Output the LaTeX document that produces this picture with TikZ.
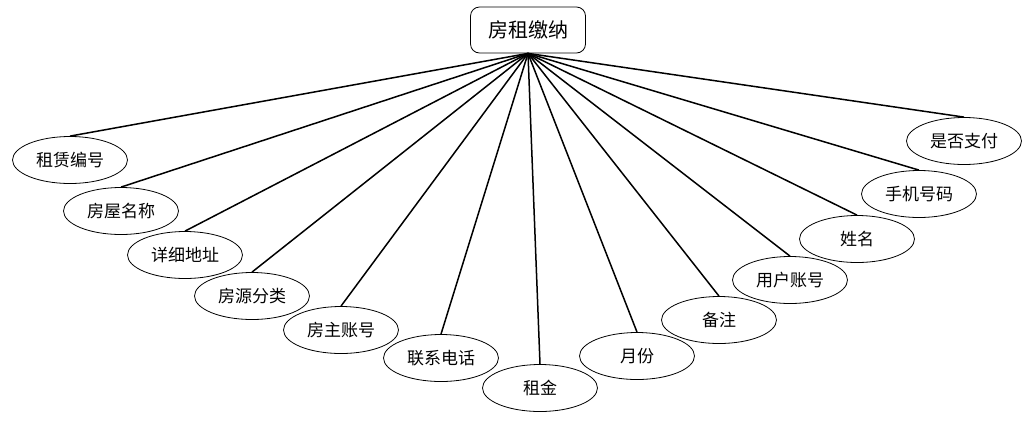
\documentclass[tikz,border=0pt]{standalone}
\usepackage{fontspec}
\newfontfamily\cjk{Noto Sans CJK SC}[FakeBold=0]
\usetikzlibrary{shapes.geometric}
\begin{document}
\begin{tikzpicture}[x=1pt,y=-1pt,
  attr/.style={ellipse,draw=black,line width=0.8pt,minimum width=115pt,minimum height=47pt,inner sep=0pt,font=\cjk\fontsize{17}{17}\selectfont},
  ent/.style={rectangle,rounded corners=9pt,draw=black,line width=0.8pt,minimum width=115pt,minimum height=46pt,inner sep=0pt,font=\cjk\fontsize{20}{20}\selectfont},
  link/.style={line width=1.5pt}]
\useasboundingbox (0,0) rectangle (1032,424);
\node[ent] (top) at (528,30) {房租缴纳};
\node[attr] (a1) at (70,160) {租赁编号};
\node[attr] (a2) at (121,211) {房屋名称};
\node[attr] (a3) at (185,255) {详细地址};
\node[attr] (a4) at (252,296) {房源分类};
\node[attr] (a5) at (341,330) {房主账号};
\node[attr] (a6) at (441,358) {联系电话};
\node[attr] (a7) at (540,388) {租金};
\node[attr] (a8) at (637,356) {月份};
\node[attr] (a9) at (719,320) {备注};
\node[attr] (a10) at (790,280) {用户账号};
\node[attr] (a11) at (857,239) {姓名};
\node[attr] (a12) at (919,194) {手机号码};
\node[attr] (a13) at (964,141) {是否支付};
\foreach \n in {a1,a2,a3,a4,a5,a6,a7,a8,a9,a10,a11,a12,a13}
  \draw[link] (top.south) -- (\n.north);
\end{tikzpicture}
\end{document}
